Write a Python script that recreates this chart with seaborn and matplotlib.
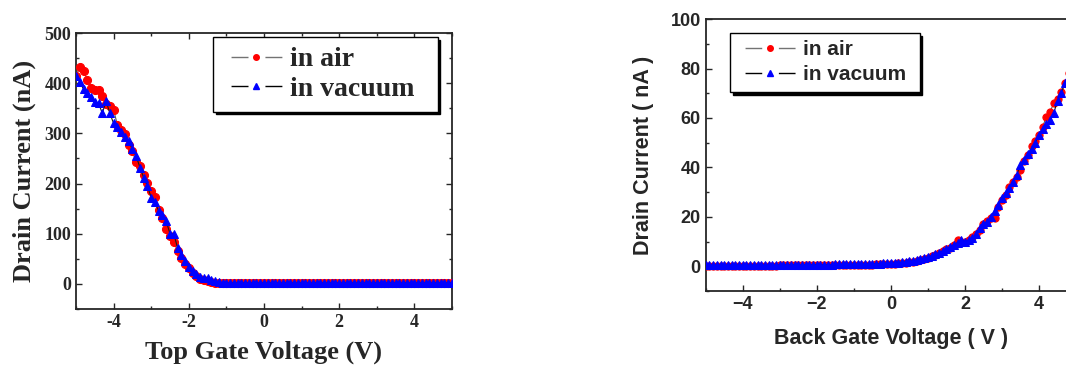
import numpy as np
import matplotlib
matplotlib.use("Agg")
import matplotlib.pyplot as plt
from matplotlib.ticker import MultipleLocator
from matplotlib.lines import Line2D
import seaborn as sns
import pandas as pd

# ---------------- data ----------------
top_v = [round(-5.0 + 0.1 * i, 1) for i in range(101)]
top_air = [415, 432, 424, 407, 390, 387, 387, 375, 358, 354,
           347, 317, 307, 299, 277, 264, 243, 236, 218, 202,
           185, 173, 148, 132, 110, 95, 83, 66, 51, 39,
           31, 21, 16, 9, 8, 6, 4, 2, 1, 1,
           1, 1, 1, 1, 1, 1, 1, 1, 1, 1,
           1, 1, 1, 2, 2, 2, 2, 2, 2, 2,
           2, 2, 2, 2, 2, 2, 2, 2, 2, 1,
           1, 1, 1, 1, 1, 1, 1, 1, 1, 1,
           1, 1, 1, 1, 1, 1, 1, 1, 1, 1,
           1, 1, 1, 1, 1, 1, 1, 1, 1, 1, 1]
top_vac = [415, 402, 388, 380, 372, 363, 360, 340, 365, 340,
           320, 313, 303, 293, 285, 268, 255, 232, 212, 195,
           172, 163, 145, 137, 125, 100, 100, 72, 58, 45,
           33, 25, 20, 13, 12, 12, 8, 5, 3, 2,
           2, 2, 2, 2, 2, 2, 2, 2, 2, 2,
           2, 2, 2, 2, 2, 2, 2, 2, 2, 2,
           2, 2, 2, 2, 2, 2, 2, 2, 2, 2,
           2, 2, 2, 2, 2, 2, 2, 2, 2, 2,
           2, 2, 2, 2, 2, 2, 2, 2, 2, 2,
           2, 2, 2, 2, 2, 2, 2, 2, 2, 2, 2]

back_v = [round(-5.0 + 0.1 * i, 1) for i in range(101)]
back_air = [0.3, 0.3, 0.3, 0.3, 0.3, 0.3, 0.3, 0.3, 0.3, 0.3,
            0.3, 0.3, 0.3, 0.3, 0.3, 0.3, 0.3, 0.3, 0.3, 0.3,
            0.4, 0.4, 0.4, 0.4, 0.4, 0.4, 0.4, 0.4, 0.5, 0.5,
            0.5, 0.5, 0.5, 0.5, 0.5, 0.5, 0.5, 0.5, 0.5, 0.5,
            0.6, 0.6, 0.6, 0.7, 0.7, 0.7, 0.8, 0.8, 0.9, 0.9,
            1.0,
            1.1, 1.2, 1.3, 1.5, 1.7, 1.9, 2.2, 2.6, 3.0, 3.5,
            4.0, 4.6, 5.3, 6.0, 6.8, 7.6, 8.8, 10.5, 10.0, 9.8,
            10.5, 12.0, 13.0, 14.5, 17.0, 18.5, 19.5, 19.5, 24.0, 27.0,
            29.0, 32.0, 34.0, 36.0, 39.0, 42.5, 45.0, 48.5, 50.5, 53.0,
            56.5, 60.5, 62.5, 66.0, 67.5, 70.5, 74.0, 78.0, 81.0, 84.0]
back_vac = [0.5, 0.5, 0.5, 0.5, 0.5, 0.5, 0.5, 0.5, 0.5, 0.5,
            0.5, 0.5, 0.5, 0.5, 0.5, 0.5, 0.5, 0.5, 0.5, 0.5,
            0.6, 0.6, 0.6, 0.6, 0.6, 0.6, 0.6, 0.6, 0.7, 0.7,
            0.7, 0.7, 0.7, 0.7, 0.7, 0.8, 0.8, 0.8, 0.8, 0.8,
            0.9, 0.9, 0.9, 1.0, 1.0, 1.0, 1.1, 1.1, 1.2, 1.2,
            1.3,
            1.4, 1.5, 1.6, 1.8, 2.0, 2.2, 2.5, 2.9, 3.3, 3.8,
            4.3, 4.9, 5.5, 6.2, 7.0, 7.8, 8.8, 9.5, 10.5, 10.0,
            10.5, 11.5, 13.0, 15.5, 17.0, 18.0, 20.0, 22.5, 25.0, 27.5,
            29.5, 31.5, 34.0, 37.0, 41.0, 43.0, 45.5, 47.5, 50.0, 53.0,
            55.5, 57.5, 59.0, 62.0, 67.0, 70.0, 74.0, 77.0, 80.0, 83.0]

labels = ["in air", "in vacuum"]

# ---------------- style ----------------
sns.set_style("ticks")
plt.rcParams['font.family'] = ['DejaVu Sans']

fig = plt.figure(figsize=(10.66, 3.67), dpi=100)
ax1 = fig.add_axes([0.0713, 0.158, 0.3527, 0.752])
ax2 = fig.add_axes([0.662, 0.207, 0.3474, 0.741])

serif = dict(family="Liberation Serif", weight="bold")
sans = dict(family="Liberation Sans", weight="bold")


def draw(ax, x, ya, yv, ms_c, ms_t):
    df_a = pd.DataFrame({"x": x, "y": ya})
    df_v = pd.DataFrame({"x": x, "y": yv})
    sns.lineplot(data=df_a, x="x", y="y", ax=ax, color="0.35", lw=0.8,
                 marker="o", markersize=ms_c, markerfacecolor="red",
                 markeredgecolor="red", zorder=3, legend=False)
    sns.lineplot(data=df_v, x="x", y="y", ax=ax, color="0.1", lw=0.8,
                 marker="^", markersize=ms_t, markerfacecolor="blue",
                 markeredgecolor="blue", zorder=4, legend=False)


def add_legend(ax, dash, blank, ms, hl, prop, anchor, loc, lsp, pad_txt):
    # blank | dash | gap(marker) | dash | blank
    pattern = (dash, dash, dash, 2 * blank)
    style = (3 * dash + blank, pattern)
    h_air = Line2D([], [], color="0.45", lw=1.0, linestyle=style,
                   marker="o", markersize=ms, markerfacecolor="red",
                   markeredgecolor="red")
    h_vac = Line2D([], [], color="0.0", lw=1.0, linestyle=style,
                   marker="^", markersize=ms, markerfacecolor="blue",
                   markeredgecolor="blue")
    leg = ax.legend([h_air, h_vac], [l + pad_txt for l in labels], loc=loc,
                    bbox_to_anchor=anchor,
                    borderaxespad=0, fancybox=False, framealpha=1,
                    shadow={"color": "black", "alpha": 1}, handlelength=hl,
                    prop=prop, borderpad=0.35, labelspacing=lsp,
                    handletextpad=0.0, numpoints=1)
    leg.get_frame().set_edgecolor("black")
    leg.get_frame().set_linewidth(1.0)
    return leg


# ---------------- left panel ----------------
draw(ax1, top_v, top_air, top_vac, 5.8, 6.2)
ax1.set_xlim(-5, 5)
ax1.set_ylim(-50, 500)
ax1.xaxis.set_major_locator(MultipleLocator(2))
ax1.xaxis.set_minor_locator(MultipleLocator(1))
ax1.yaxis.set_major_locator(MultipleLocator(100))
ax1.yaxis.set_minor_locator(MultipleLocator(50))
ax1.tick_params(which="both", direction="in", top=True, right=True)
ax1.tick_params(which="major", length=4, width=1)
ax1.tick_params(which="minor", length=2.5, width=1)
ax1.set_xticks([-4, -2, 0, 2, 4])
ax1.set_xticklabels(["-4", "-2", "0", "2", "4"])
for t in ax1.get_xticklabels() + ax1.get_yticklabels():
    t.set_fontfamily("Liberation Serif")
    t.set_fontweight("bold")
    t.set_fontsize(13)
ax1.set_xlabel("Top Gate Voltage (V)", fontsize=19, labelpad=7, **serif)
ax1.set_ylabel("Drain Current (nA)", fontsize=19, labelpad=6, **serif)
for s in ax1.spines.values():
    s.set_linewidth(1.3)
add_legend(ax1, 12.2, 5.8, 4.0, 2.41,
           dict(family="Liberation Serif", weight="bold", size=20),
           (0.962, 0.985), "upper right", 0.15, "\u2002")

# ---------------- right panel ----------------
draw(ax2, back_v, back_air, back_vac, 5.2, 5.6)
ax2.set_xlim(-5, 5)
ax2.set_ylim(-10, 100)
ax2.xaxis.set_major_locator(MultipleLocator(2))
ax2.xaxis.set_minor_locator(MultipleLocator(1))
ax2.yaxis.set_major_locator(MultipleLocator(20))
ax2.yaxis.set_minor_locator(MultipleLocator(10))
ax2.tick_params(which="both", direction="in")
ax2.tick_params(which="major", length=4, width=1)
ax2.tick_params(which="minor", length=2.5, width=1)
ax2.set_xticks([-4, -2, 0, 2, 4])
ax2.set_xticklabels(["\u22124", "\u22122", "0", "2", "4"])
for t in ax2.get_xticklabels() + ax2.get_yticklabels():
    t.set_fontfamily("Liberation Sans")
    t.set_fontweight("bold")
    t.set_fontsize(13)
ax2.set_xlabel("Back Gate Voltage ( V )", fontsize=15.5, labelpad=11, **sans)
ax2.set_ylabel("Drain Current ( nA )", fontsize=15.5, labelpad=12, **sans)
for s in ax2.spines.values():
    s.set_linewidth(1.3)
add_legend(ax2, 12.0, 5.8, 4.0, 3.17,
           dict(family="Liberation Sans", weight="bold", size=15),
           (0.066, 0.949), "upper left", 0.3, " ")

fig.savefig("out.png", dpi=100)
